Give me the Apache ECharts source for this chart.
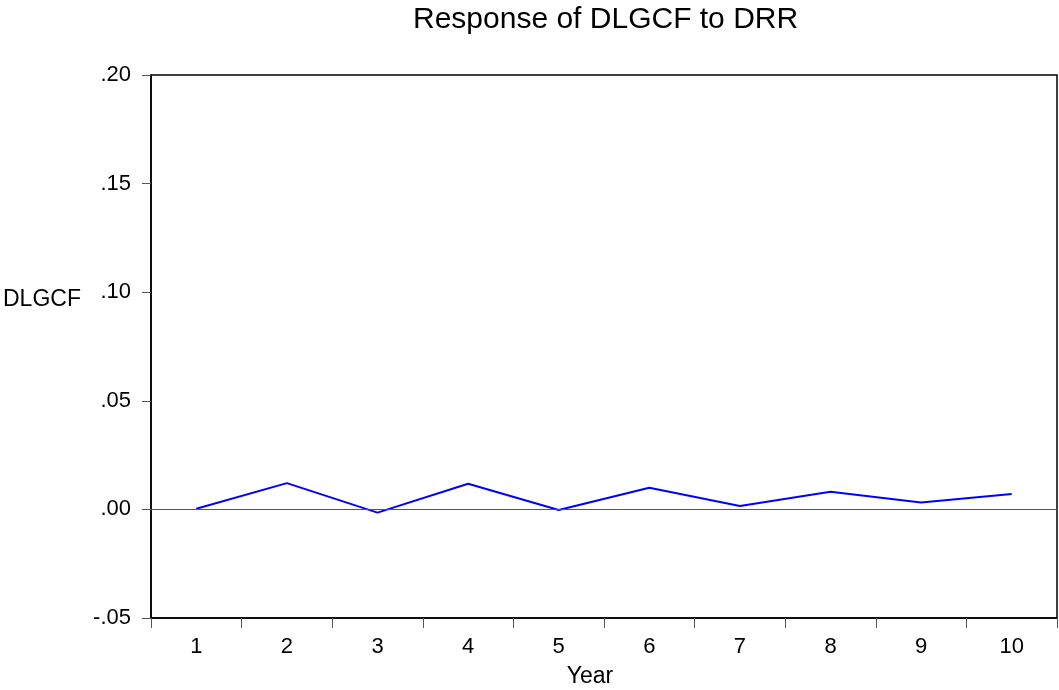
<!DOCTYPE html>
<html>
<head>
<meta charset="utf-8">
<title>Response of DLGCF to DRR</title>
<script src="https://cdn.jsdelivr.net/npm/echarts@6/dist/echarts.min.js"></script>
<style>
  html, body { margin: 0; padding: 0; background: #fff; }
  #main { width: 1059px; height: 690px; }
</style>
</head>
<body>
<div id="main"></div>
<script>
var years = ['1', '2', '3', '4', '5', '6', '7', '8', '9', '10'];
var response = [0.0003, 0.0121, -0.0015, 0.0118, -0.0003, 0.0100, 0.0016, 0.0081, 0.0032, 0.0071];
var yTicks = [-0.05, 0.20, 0.05]; // min, max, step

var font = "'Liberation Sans', Arial, sans-serif";

function fmt(v) {
  var s = v.toFixed(2);
  return s.replace(/^(-?)0\./, '$1.');
}

var chart = echarts.init(document.getElementById('main'));
var option = {
  animation: false,
  backgroundColor: '#fff',
  title: {
    text: 'Response of DLGCF to DRR',
    left: 413,
    top: 5,
    padding: 0,
    textStyle: { fontFamily: font, fontSize: 30, fontWeight: 'normal', color: '#000' }
  },
  grid: {
    left: 151, right: 2, top: 75, bottom: 72,
    show: true, borderColor: '#000', borderWidth: 1.5,
    containLabel: false,
    outerBoundsMode: 'none'
  },
  graphic: [{
    type: 'text',
    left: 3,
    top: 288,
    style: { text: 'DLGCF', fontFamily: font, fontSize: 23, fill: '#000' }
  }],
  xAxis: {
    type: 'category',
    data: years,
    boundaryGap: true,
    name: 'Year',
    nameLocation: 'middle',
    nameGap: 47,
    nameTextStyle: { fontFamily: font, fontSize: 23, color: '#000', padding: [0, 28, 0, 0] },
    axisLine: { onZero: false, lineStyle: { color: '#000', width: 1.5 } },
    axisTick: { show: true, inside: false, length: 10, lineStyle: { color: '#555' } },
    axisLabel: { fontFamily: font, fontSize: 22, color: '#000', margin: 18 },
    splitLine: { show: false }
  },
  yAxis: {
    type: 'value',
    min: yTicks[0],
    max: yTicks[1],
    interval: yTicks[2],
    axisLine: { show: true, lineStyle: { color: '#000', width: 1.5 } },
    axisTick: { show: true, inside: false, length: 9, lineStyle: { color: '#555' } },
    axisLabel: { fontFamily: font, fontSize: 22, color: '#000', margin: 20, formatter: fmt },
    splitLine: { show: false }
  },
  series: [{
    type: 'line',
    data: response,
    showSymbol: false,
    lineStyle: { color: '#0000ff', width: 2 },
    itemStyle: { color: '#0000ff' },
    markLine: {
      silent: true,
      symbol: ['none', 'none'],
      label: { show: false },
      lineStyle: { color: '#555', width: 1, type: 'solid' },
      data: [{ yAxis: 0 }]
    },
    z: 3
  }]
};
chart.setOption(option);
</script>
</body>
</html>
